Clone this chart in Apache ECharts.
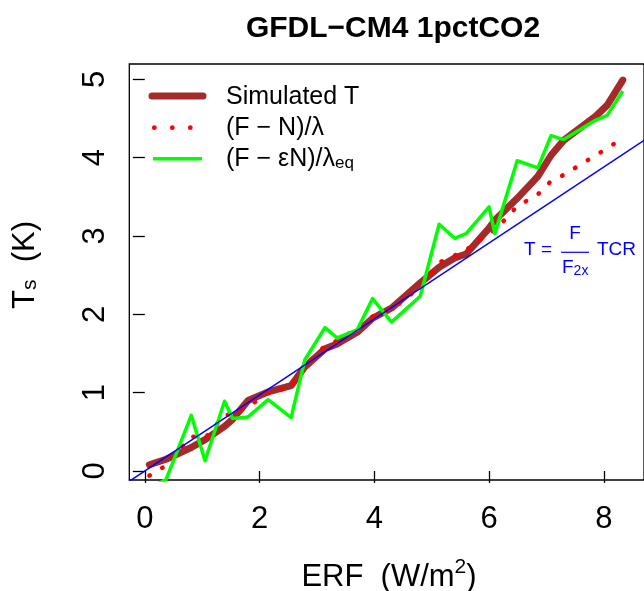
<!DOCTYPE html>
<html>
<head>
<meta charset="utf-8">
<script src="https://cdn.jsdelivr.net/npm/echarts@6/dist/echarts.min.js"></script>
<style>html,body{margin:0;padding:0;background:#fff;}#c{width:644px;height:591px;}</style>
</head>
<body>
<div id="c"></div>
<script>
// ---- data ----
const erf        = [0.08, 0.37, 0.81, 1.05, 1.39, 1.53, 1.80, 2.15, 2.55, 2.79, 3.14, 3.35, 3.70, 3.97, 4.30, 4.80, 5.13, 5.40, 5.60, 6.00, 6.10, 6.49, 6.85, 7.08, 7.30, 7.86, 8.06, 8.33];
const simT       = [0.08, 0.15, 0.30, 0.40, 0.57, 0.66, 0.90, 1.01, 1.09, 1.33, 1.56, 1.62, 1.77, 1.95, 2.08, 2.40, 2.60, 2.72, 2.77, 3.10, 3.20, 3.48, 3.76, 4.03, 4.22, 4.53, 4.67, 4.99];
const fnLambda   = [-0.06, 0.07, 0.44, 0.42, 0.71, 0.73, 0.82, 1.00, 1.07, 1.33, 1.60, 1.66, 1.82, 1.97, 2.06, 2.35, 2.66, 2.75, 2.82, 3.04, 3.07, 3.38, 3.53, 3.70, 3.78, 4.03, 4.12, 4.25];
const epsLambda  = [-0.22, -0.11, 0.71, 0.13, 0.89, 0.67, 0.69, 0.91, 0.68, 1.42, 1.83, 1.70, 1.80, 2.20, 1.90, 2.23, 3.15, 2.97, 3.03, 3.37, 3.03, 3.96, 3.87, 4.28, 4.23, 4.48, 4.54, 4.85];
const tcrLineX   = [-0.3, 8.8];
const tcrLineY   = [-0.1455, 4.268];
const xTicks     = [0, 2, 4, 6, 8];
const yTicks     = [0, 1, 2, 3, 4, 5];
const seriesNames = ['Simulated T', '(F − N)/λ', '(F − εN)/λeq'];

const zip = (xs, ys) => xs.map((x, i) => [x, ys[i]]);
const FF = 'Liberation Sans';

const chart = echarts.init(document.getElementById('c'), null, {renderer: 'canvas'});
chart.setOption({
  animation: false,
  backgroundColor: '#fff',
  title: {
    text: 'GFDL−CM4 1pctCO2',
    left: 388, top: 9, textAlign: 'center',
    textStyle: {fontSize: 30, fontWeight: 'bold', fontFamily: FF, color: '#000'}
  },
  grid: {left: 129.3, top: 64, right: -4.4, bottom: 111, show: true, borderColor: '#000', borderWidth: 1.3},
  xAxis: {
    type: 'value', min: -0.27, max: 8.7,
    axisLine: {show: false}, splitLine: {show: false},
    axisTick: {show: true, length: 12, customValues: xTicks, lineStyle: {color: '#000', width: 1.3}},
    axisLabel: {customValues: xTicks, margin: 24, fontSize: 31, fontFamily: FF, color: '#000'}
  },
  yAxis: {
    type: 'value', min: -0.115, max: 5.195,
    axisLine: {show: false}, splitLine: {show: false},
    axisTick: {show: true, length: 12, customValues: yTicks, lineStyle: {color: '#000', width: 1.3}},
    axisLabel: {customValues: yTicks, rotate: 90, margin: 18, fontSize: 31, fontFamily: FF, color: '#000'}
  },
  series: [
    {name: seriesNames[0], type: 'line', data: zip(erf, simT), symbol: 'none', z: 2,
     lineStyle: {color: '#A52A2A', width: 7, cap: 'round', join: 'round'}},
    {name: seriesNames[1], type: 'line', data: zip(erf, fnLambda), symbol: 'none', z: 3,
     lineStyle: {color: '#FF0000', width: 4.5, type: [0.5, 14.5], cap: 'round', join: 'round'}},
    {name: seriesNames[2], type: 'line', data: zip(erf, epsLambda), symbol: 'none', z: 4,
     lineStyle: {color: '#00FF00', width: 3.5, join: 'round'}},
    {name: 'TCR line', type: 'line', data: zip(tcrLineX, tcrLineY), symbol: 'none', z: 5,
     lineStyle: {color: '#0000FF', width: 1.5}}
  ],
  graphic: [
    // axis titles
    {type: 'text', x: 389, y: 575, z: 10, style: {
      text: '{a|ERF  (W/m}{sup|2}{a|)}', textAlign: 'center', textVerticalAlign: 'middle',
      fill: '#000', fontFamily: FF, fontSize: 31,
      rich: {a: {fontSize: 31, fontFamily: FF, verticalAlign: 'bottom', lineHeight: 36},
             sup: {fontSize: 21, fontFamily: FF, verticalAlign: 'top', lineHeight: 21}}}},
    {type: 'text', x: 25, y: 265, rotation: Math.PI / 2, z: 10, style: {
      text: '{a|T}{sub|s}{a|  (K)}', textAlign: 'center', textVerticalAlign: 'middle',
      fill: '#000', fontFamily: FF, fontSize: 31,
      rich: {a: {fontSize: 31, fontFamily: FF, verticalAlign: 'top', lineHeight: 31},
             sub: {fontSize: 21, fontFamily: FF, verticalAlign: 'bottom', lineHeight: 27}}}},
    // legend
    {type: 'line', z: 10, shape: {x1: 152, y1: 96, x2: 203, y2: 96}, style: {stroke: '#A52A2A', lineWidth: 7, lineCap: 'round'}},
    {type: 'circle', z: 10, shape: {cx: 154.3, cy: 127.7, r: 2.4}, style: {fill: '#FF0000'}},
    {type: 'circle', z: 10, shape: {cx: 172.3, cy: 127.7, r: 2.4}, style: {fill: '#FF0000'}},
    {type: 'circle', z: 10, shape: {cx: 190.3, cy: 127.7, r: 2.4}, style: {fill: '#FF0000'}},
    {type: 'line', z: 10, shape: {x1: 153, y1: 158.7, x2: 202, y2: 158.7}, style: {stroke: '#00FF00', lineWidth: 3.5}},
    {type: 'text', x: 226, y: 97, z: 10, style: {text: seriesNames[0], fill: '#000', fontFamily: FF, fontSize: 25, textVerticalAlign: 'middle'}},
    {type: 'text', x: 226, y: 128, z: 10, style: {text: seriesNames[1], fill: '#000', fontFamily: FF, fontSize: 25, textVerticalAlign: 'middle'}},
    {type: 'text', x: 226, y: 159, z: 10, style: {
      text: '{a|(F − εN)/λ}{sub|eq}', fill: '#000', fontFamily: FF, fontSize: 25, textVerticalAlign: 'middle',
      rich: {a: {fontSize: 25, fontFamily: FF, verticalAlign: 'top', lineHeight: 25},
             sub: {fontSize: 17, fontFamily: FF, verticalAlign: 'bottom', lineHeight: 22}}}},
    // TCR formula
    {type: 'text', x: 524, y: 250, z: 10, style: {text: 'T =', fill: '#0000FF', fontFamily: FF, fontSize: 19, textVerticalAlign: 'middle'}},
    {type: 'text', x: 575, y: 234, z: 10, style: {text: 'F', fill: '#0000FF', fontFamily: FF, fontSize: 19, textAlign: 'center', textVerticalAlign: 'middle'}},
    {type: 'line', z: 10, shape: {x1: 561, y1: 252.3, x2: 589, y2: 252.3}, style: {stroke: '#0000FF', lineWidth: 1.2}},
    {type: 'text', x: 562, y: 268, z: 10, style: {
      text: '{a|F}{sub|2x}', fill: '#0000FF', fontFamily: FF, fontSize: 19, textVerticalAlign: 'middle',
      rich: {a: {fontSize: 19, fontFamily: FF, verticalAlign: 'top', lineHeight: 19},
             sub: {fontSize: 14, fontFamily: FF, verticalAlign: 'bottom', lineHeight: 20}}}},
    {type: 'text', x: 597, y: 250, z: 10, style: {text: 'TCR', fill: '#0000FF', fontFamily: FF, fontSize: 19, textVerticalAlign: 'middle'}}
  ]
});
</script>
</body>
</html>
